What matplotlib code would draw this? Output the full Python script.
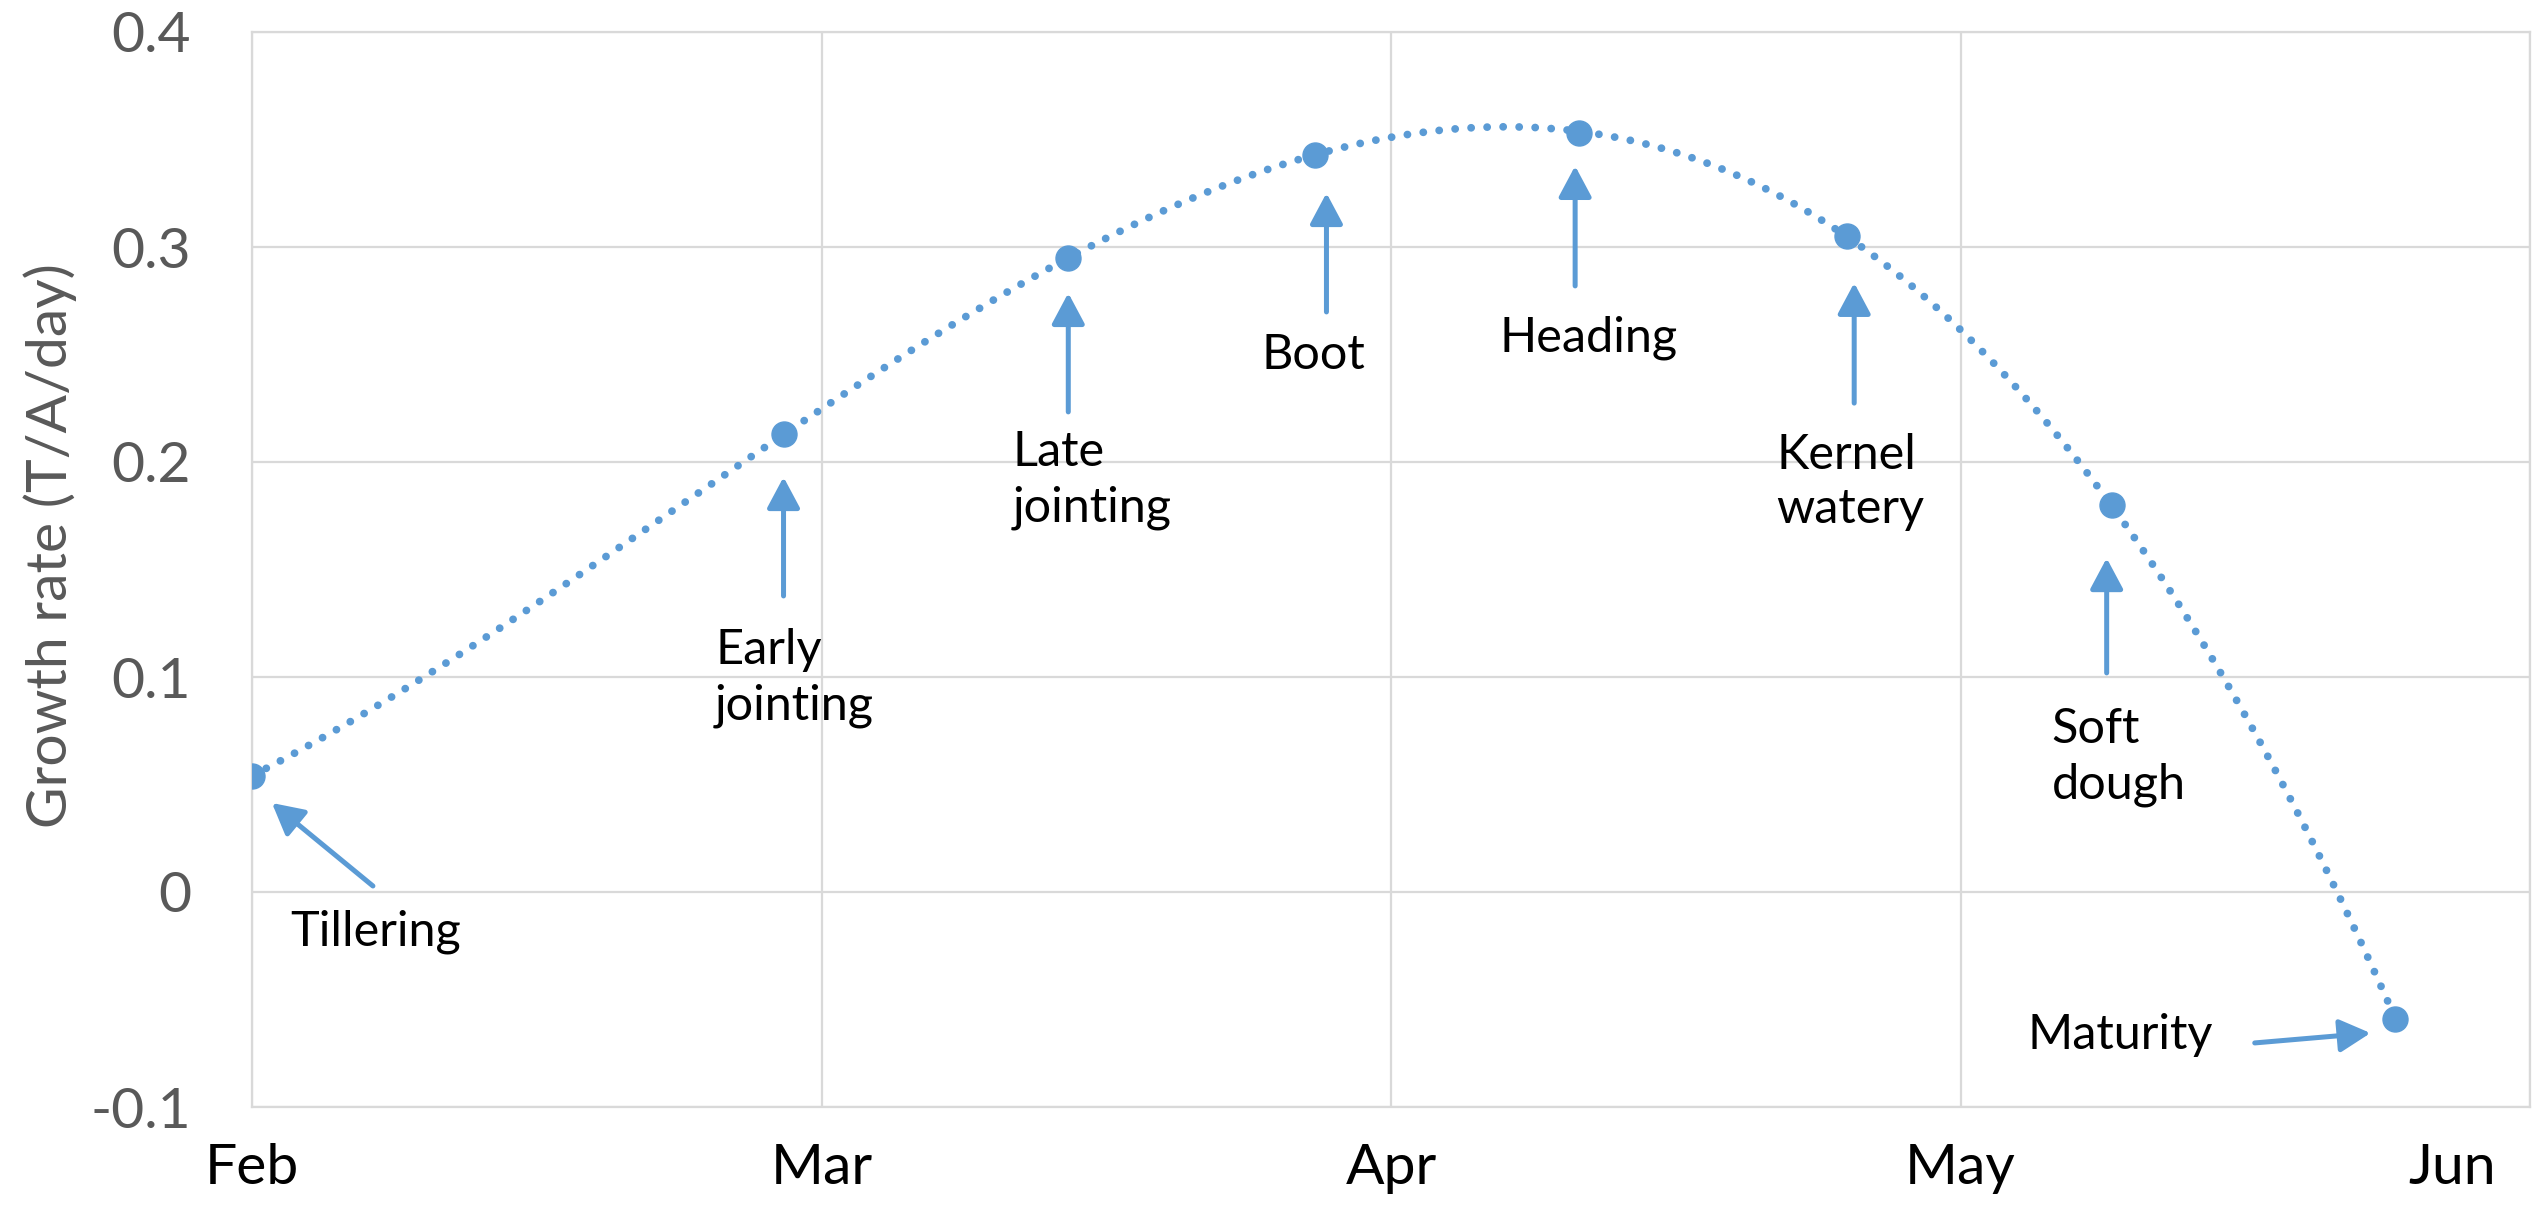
import numpy as np
import matplotlib
matplotlib.use("Agg")
import matplotlib.pyplot as plt
from matplotlib.transforms import ScaledTranslation

# Growth stages of the crop, days after Feb 1 and growth rate (T/A/day)
stages = ["Tillering", "Early\njointing", "Late\njointing", "Boot", "Heading",
          "Kernel\nwatery", "Soft\ndough", "Maturity"]
days = np.array([0.0, 28.0, 43.0, 56.0, 69.9, 84.0, 98.0, 112.9])
rate = np.array([0.054, 0.213, 0.295, 0.343, 0.353, 0.305, 0.180, -0.059])

month_ticks = [0, 30, 60, 90, 120]
month_labels = ["Feb", "Mar", "Apr", "May", "Jun"]

blue = "#5B9BD5"
grey = "#595959"
grid_col = "#D9D9D9"

plt.rcParams['font.family'] = ['Lato', 'DejaVu Sans']

fig = plt.figure(figsize=(25.39, 12.12), dpi=100)
ax = fig.add_axes([252 / 2539, 1 - 1107 / 1212, (2530 - 252) / 2539, (1107 - 32) / 1212])

# polynomial trendline through the stages (like the spreadsheet trendline)
coef = np.polyfit(days, rate, 3)
xs = np.linspace(days.min(), days.max(), 400)
ax.plot(xs, np.polyval(coef, xs), color=blue, lw=5.6,
        linestyle=(0, (0.01, 2.05)), dash_capstyle='round', zorder=2)
ax.plot(days, rate, 'o', color=blue, markersize=18, zorder=3)

ax.set_xlim(0, 120)
ax.set_ylim(-0.1, 0.4)
ax.set_xticks(month_ticks)
ax.set_xticklabels(month_labels)
ax.set_yticks([-0.1, 0, 0.1, 0.2, 0.3, 0.4])
ax.set_yticklabels(["-0.1", "0", "0.1", "0.2", "0.3", "0.4"])
ax.grid(True, color=grid_col, lw=1.6)
ax.set_axisbelow(True)
for s in ax.spines.values():
    s.set_color(grid_col)
    s.set_linewidth(1.6)
ax.tick_params(axis='x', length=0, pad=26, labelsize=41, labelcolor='black')
ax.tick_params(axis='y', length=0, pad=44, labelsize=41, labelcolor=grey)

# Jun label pulled inside the figure
jun = ax.get_xticklabels()[-1]
jun.set_transform(jun.get_transform() + ScaledTranslation(-0.78, 0, fig.dpi_scale_trans))

fig.text(50 / 2539, 1 - 546 / 1212, "Growth rate (T/A/day)", rotation=90,
         ha='center', va='center', fontsize=41, color=grey)

# stage labels with arrows: (text x, text y, ha, arrow start, arrow tip)
notes = [
    (6.5, -0.0186, 'center', (6.37, 0.0028), (1.05, 0.0414)),
    (24.4, 0.0995, 'left', (28.0, 0.1377), (28.0, 0.193)),
    (40.05, 0.1916, 'left', (43.0, 0.2233), (43.0, 0.2786)),
    (55.9, 0.2498, 'center', (56.6, 0.2698), (56.6, 0.3251)),
    (70.4, 0.2577, 'center', (69.7, 0.2819), (69.7, 0.3377)),
    (80.3, 0.1907, 'left', (84.4, 0.2274), (84.4, 0.2833)),
    (94.8, 0.0628, 'left', (97.7, 0.1019), (97.7, 0.1553)),
    (98.4, -0.0665, 'center', (105.5, -0.0702), (111.6, -0.0656)),
]
for label, (tx, ty, ha, a0, a1) in zip(stages, notes):
    ax.text(tx, ty, label, ha=ha, va='center', fontsize=35, color='black',
            linespacing=1.3, zorder=4)
    ax.annotate("", xy=a1, xytext=a0,
                arrowprops=dict(arrowstyle='-|>,head_length=0.45,head_width=0.24',
                                color=blue, lw=3.6, mutation_scale=42,
                                shrinkA=0, shrinkB=0))

fig.savefig("out.png", dpi=100)
